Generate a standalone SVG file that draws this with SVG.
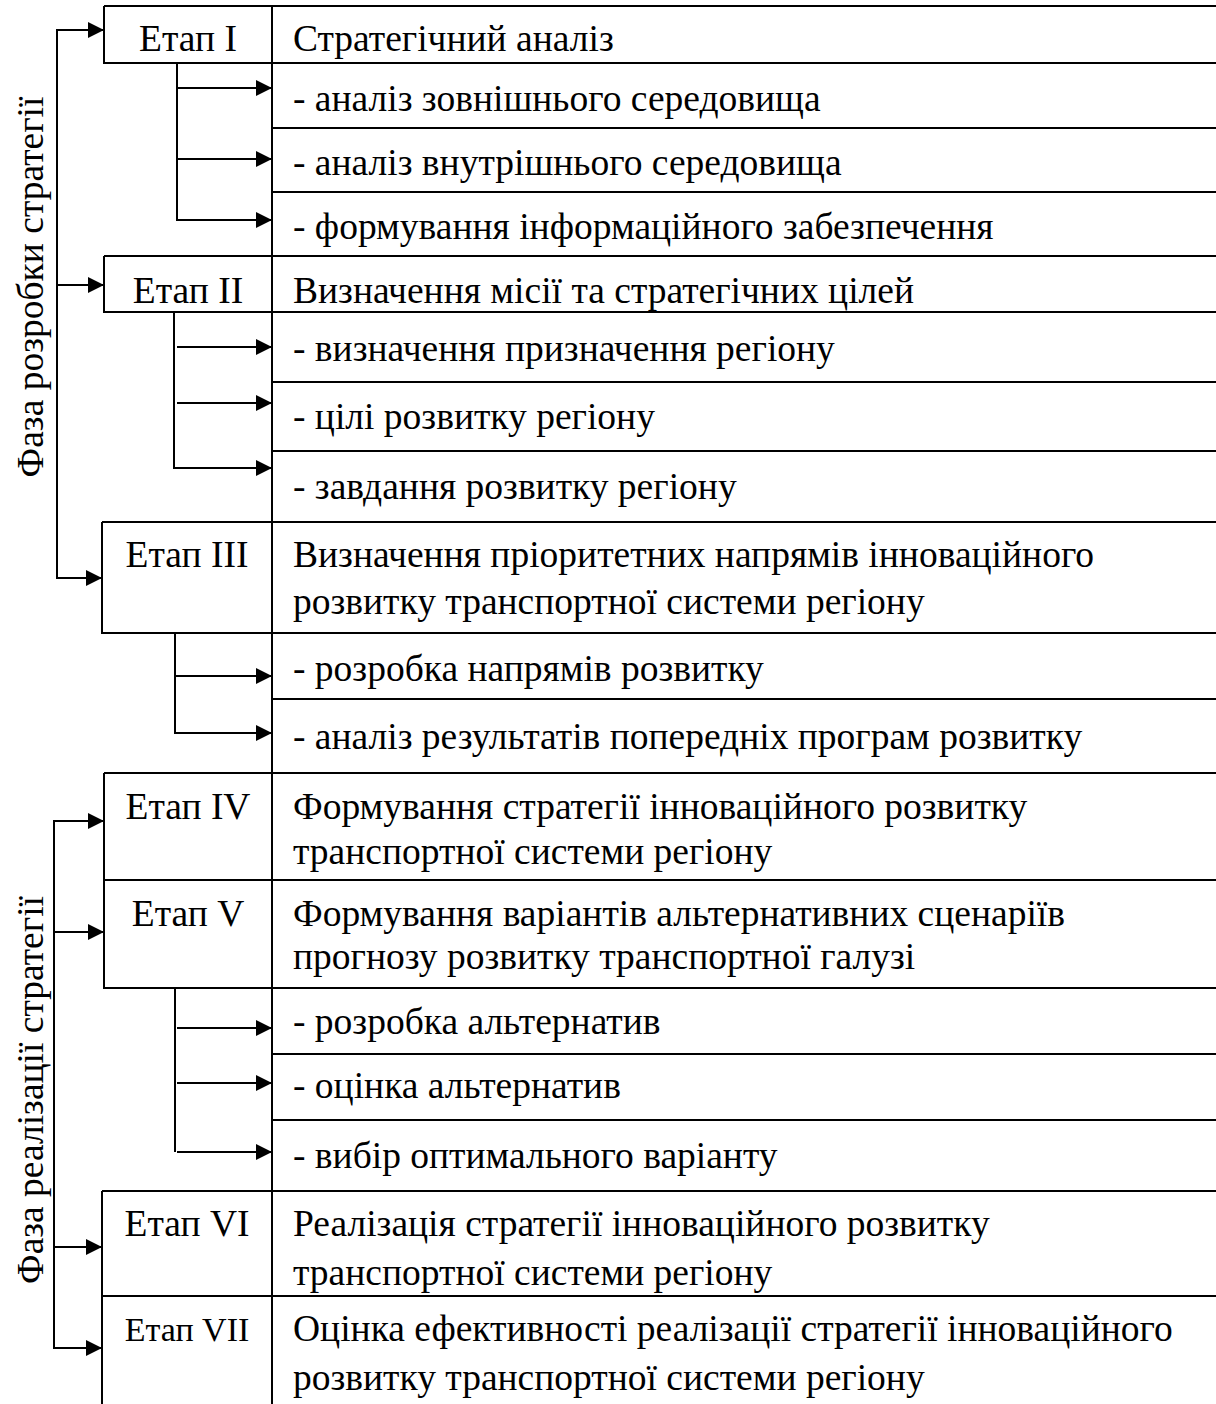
<svg xmlns="http://www.w3.org/2000/svg" width="1216" height="1404" viewBox="0 0 1216 1404">
<style>
.t{font-family:"Liberation Serif","Times New Roman",serif;font-size:37.5px;fill:#000}
.e{text-anchor:middle}
.b{fill:none;stroke:#000;stroke-width:2}
.c{fill:none;stroke:#000;stroke-width:2}
</style>
<defs>
<marker id="ah" markerUnits="userSpaceOnUse" markerWidth="18" markerHeight="18" refX="16" refY="8" orient="auto" overflow="visible">
<path d="M0,0 L16,8 L0,16 Z" fill="#000"/>
</marker>
</defs>
<rect width="1216" height="1404" fill="#fff"/>

<g id="phase1"><text class="t e" transform="translate(43,287) rotate(-90)">Фаза розробки стратегії</text></g>
<g id="phase2"><text class="t e" transform="translate(43,1090) rotate(-90)">Фаза реалізації стратегії</text></g>

<g id="stage1">
<path class="b" d="M104,6 H1216 M104,6 V63 H1216 M272,6 V63"/>
<text class="t e" x="188" y="51">Етап I</text>
<text class="t" x="293" y="51">Стратегічний аналіз</text>
</g>
<g id="s1a"><path class="b" d="M272,63 V128 H1216"/><text class="t" x="293" y="111">- аналіз зовнішнього середовища</text></g>
<g id="s1b"><path class="b" d="M272,128 V192 H1216"/><text class="t" x="293" y="175">- аналіз внутрішнього середовища</text></g>
<g id="s1c"><path class="b" d="M272,192 V256"/><text class="t" x="293" y="239">- формування інформаційного забезпечення</text></g>

<g id="stage2">
<path class="b" d="M104,256 H1216 M104,256 V312 H1216 M272,256 V312"/>
<text class="t e" x="188" y="303">Етап II</text>
<text class="t" x="293" y="303">Визначення місії та стратегічних цілей</text>
</g>
<g id="s2a"><path class="b" d="M272,312 V382 H1216"/><text class="t" x="293" y="361">- визначення призначення регіону</text></g>
<g id="s2b"><path class="b" d="M272,382 V451 H1216"/><text class="t" x="293" y="429">- цілі розвитку регіону</text></g>
<g id="s2c"><path class="b" d="M272,451 V522"/><text class="t" x="293" y="499">- завдання розвитку регіону</text></g>

<g id="stage3">
<path class="b" d="M102,522 H1216 M102,522 V633 H1216 M272,522 V633"/>
<text class="t e" x="187" y="567">Етап III</text>
<text class="t" x="293" y="567">Визначення пріоритетних напрямів інноваційного</text>
<text class="t" x="293" y="614">розвитку транспортної системи регіону</text>
</g>
<g id="s3a"><path class="b" d="M272,633 V699 H1216"/><text class="t" x="293" y="681">- розробка напрямів розвитку</text></g>
<g id="s3b"><path class="b" d="M272,699 V773"/><text class="t" x="293" y="749">- аналіз результатів попередніх програм розвитку</text></g>

<g id="stage4">
<path class="b" d="M104,773 H1216 M104,773 V880 H1216 M272,773 V880"/>
<text class="t e" x="188" y="819">Етап IV</text>
<text class="t" x="293" y="819">Формування стратегії інноваційного розвитку</text>
<text class="t" x="293" y="864">транспортної системи регіону</text>
</g>
<g id="stage5">
<path class="b" d="M104,880 V988 H1216 M272,880 V988"/>
<text class="t e" x="188" y="926">Етап V</text>
<text class="t" x="293" y="926">Формування варіантів альтернативних сценаріїв</text>
<text class="t" x="293" y="969">прогнозу розвитку транспортної галузі</text>
</g>
<g id="s5a"><path class="b" d="M272,988 V1054 H1216"/><text class="t" x="293" y="1034">- розробка альтернатив</text></g>
<g id="s5b"><path class="b" d="M272,1054 V1120 H1216"/><text class="t" x="293" y="1098">- оцінка альтернатив</text></g>
<g id="s5c"><path class="b" d="M272,1120 V1191"/><text class="t" x="293" y="1168">- вибір оптимального варіанту</text></g>

<g id="stage6">
<path class="b" d="M102,1191 H1216 M102,1191 V1296 H1216 M272,1191 V1296"/>
<text class="t e" x="187" y="1236">Етап VI</text>
<text class="t" x="293" y="1236">Реалізація стратегії інноваційного розвитку</text>
<text class="t" x="293" y="1285">транспортної системи регіону</text>
</g>
<g id="stage7">
<path class="b" d="M102,1296 V1404 M272,1296 V1404"/>
<text class="t e" x="187" y="1341" style="font-size:34px">Етап VII</text>
<text class="t" x="293" y="1341">Оцінка ефективності реалізації стратегії інноваційного</text>
<text class="t" x="293" y="1390">розвитку транспортної системи регіону</text>
</g>

<g id="connectors">
<path class="c" d="M57,30 V578"/>
<path class="c" d="M56,30 H104" marker-end="url(#ah)"/>
<path class="c" d="M56,285 H104" marker-end="url(#ah)"/>
<path class="c" d="M56,578 H102" marker-end="url(#ah)"/>

<path class="c" d="M177,63 V220"/>
<path class="c" d="M177,88 H272" marker-end="url(#ah)"/>
<path class="c" d="M177,159 H272" marker-end="url(#ah)"/>
<path class="c" d="M176,220 H272" marker-end="url(#ah)"/>

<path class="c" d="M174,312 V468"/>
<path class="c" d="M177,347 H272" marker-end="url(#ah)"/>
<path class="c" d="M177,403 H272" marker-end="url(#ah)"/>
<path class="c" d="M173,468 H272" marker-end="url(#ah)"/>

<path class="c" d="M175,633 V733"/>
<path class="c" d="M175,676 H272" marker-end="url(#ah)"/>
<path class="c" d="M174,733 H272" marker-end="url(#ah)"/>

<path class="c" d="M54,821 V1348"/>
<path class="c" d="M53,821 H104" marker-end="url(#ah)"/>
<path class="c" d="M54,932 H104" marker-end="url(#ah)"/>
<path class="c" d="M54,1247 H102" marker-end="url(#ah)"/>
<path class="c" d="M53,1348 H102" marker-end="url(#ah)"/>

<path class="c" d="M175,988 V1152"/>
<path class="c" d="M177,1028 H272" marker-end="url(#ah)"/>
<path class="c" d="M177,1083 H272" marker-end="url(#ah)"/>
<path class="c" d="M177,1152 H272" marker-end="url(#ah)"/>
</g>
</svg>
